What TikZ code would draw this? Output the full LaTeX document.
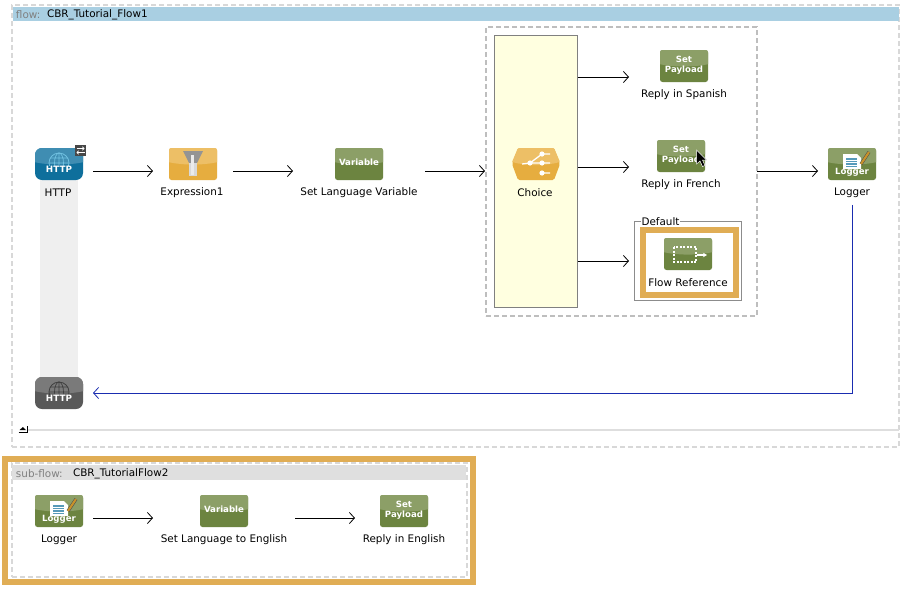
\documentclass[tikz,border=0pt]{standalone}
\usepackage{fontspec}
\setmainfont{DejaVu Sans}
\usetikzlibrary{arrows.meta,calc}
\definecolor{gdark}{HTML}{6C8440}
\definecolor{glight}{HTML}{8C9F67}
\definecolor{odark}{HTML}{E6AD3F}
\definecolor{olight}{HTML}{EDBF66}
\definecolor{bdark}{HTML}{0E6F9C}
\definecolor{blight}{HTML}{3F8DB2}
\definecolor{globeb}{HTML}{6FC0E0}
\definecolor{kdark}{HTML}{595959}
\definecolor{klight}{HTML}{7A7A7A}
\definecolor{sel}{HTML}{E0AD55}
\definecolor{flowbar}{HTML}{A9CFE2}
\definecolor{subbar}{HTML}{DFDFDF}
\definecolor{lane}{HTML}{EFEFEF}
\definecolor{dashg}{HTML}{D8D8D8}
\definecolor{scopeg}{HTML}{BEBEBE}
\definecolor{yell}{HTML}{FFFFE0}
\definecolor{wire}{HTML}{1A2DB0}
\definecolor{pencil}{HTML}{C8922A}
\tikzset{
  x=1pt,y=-1pt,
  box/.style={rectangle,inner sep=0pt,outer sep=0pt},
  iconbase/.style={box,minimum width=48pt,minimum height=32pt,rounded corners=2.5pt},
  lbl/.style={box,font=\fontsize{10.4}{12}\selectfont,text=black},
  hdrgray/.style={box,anchor=west,font=\fontsize{10.4}{12}\selectfont,text=black!50},
  hdrblack/.style={box,anchor=west,font=\fontsize{10.4}{12}\selectfont,text=black},
  icontext/.style={box,align=center,text=white,font=\fontsize{8.6}{9.5}\selectfont\bfseries},
  conn/.style={draw=black,line width=.8pt,-{Straight Barb[length=5pt,width=11pt,line width=.8pt]}},
  connb/.style={draw=wire,line width=.9pt,-{Straight Barb[length=5pt,width=11pt,line width=.8pt]}},
  flowdash/.style={draw=dashg,line width=2pt,dash pattern=on 5pt off 3pt},
  scopedash/.style={draw=scopeg,line width=2pt,dash pattern=on 5pt off 3pt},
}
% name, cx, cy, dark, light
\newcommand{\iconbox}[5]{%
  \node[iconbase,fill=#4,path picture={
    \fill[#5,sharp corners,shift={(path picture bounding box.center)}]
      (-26,-18) rectangle (26,-2) (-26,-2.2) .. controls (-10,1.5) and (10,1.5) .. (26,-2.2) -- cycle;
  }] (#1) at (#2,#3) {};}
\newcommand{\setpayload}[4]{\iconbox{#1}{#2}{#3}{gdark}{glight}%
  \node[icontext] (#1-t) at ($(#1.center)+(0,-0.5)$) {Set\\[.5pt]Payload};
  \node[lbl] (#1-l) at (#2,#3+29) {#4};}
\newcommand{\variable}[4]{\iconbox{#1}{#2}{#3}{gdark}{glight}%
  \node[icontext] (#1-t) at ($(#1.center)+(0,-1.5)$) {Variable};
  \node[lbl] (#1-l) at (#2,#3+29) {#4};}
\newcommand{\loggericon}[4]{\iconbox{#1}{#2}{#3}{gdark}{glight}%
  \begin{scope}[shift={(#1.center)}]
    \fill[white] (-9,-10) -- (5,-10) -- (9,-6) -- (9,5) -- (-9,5) -- cycle;
    \foreach \yy in {-5,-2.5,0,2.5}{\draw[color=bdark!70,line width=1.1pt] (-6,\yy) -- (5,\yy);}
    \draw[color=black!70,line width=3.2pt] (17,-12) -- (9,0);
    \draw[color=pencil,line width=2.2pt] (17,-12) -- (9,0);
  \end{scope}
  \node[icontext] (#1-t) at ($(#1.center)+(0,8)$) {Logger};
  \node[lbl] (#1-l) at (#2,#3+29) {#4};}
\newcommand{\httpicon}[6]{%
  \node[iconbase,rounded corners=7pt,fill=#4,path picture={
    \fill[#5,sharp corners,shift={(path picture bounding box.center)}]
      (-26,-18) rectangle (26,-2) (-26,-2.2) .. controls (-10,1.5) and (10,1.5) .. (26,-2.2) -- cycle;
  }] (#1) at (#2,#3) {};
  \begin{scope}[shift={(#1.center)}]
    \clip (-14,-13) rectangle (14,1);
    \draw[color=#6,line width=.8pt] (0,-1) circle (10);
    \draw[color=#6,line width=.7pt] (0,-1) ellipse (4.5 and 10) (-10,-1) -- (10,-1) (-9,-6) -- (9,-6) (0,-11) -- (0,1);
  \end{scope}
  \node[icontext,font=\fontsize{8.8}{9.5}\selectfont\bfseries] (#1-t) at ($(#1.center)+(0,5)$) {HTTP};}
\begin{document}
\begin{tikzpicture}
\useasboundingbox (0,0) rectangle (904,589);
\fill[white] (0,0) rectangle (904,589);
% main flow
\node[box,fill=white,flowdash,minimum width=887pt,minimum height=442pt] (flowbox) at (455.5,226) {};
\node[box,fill=flowbar,minimum width=886pt,minimum height=14pt] (flowbar) at (456,14) {};
\node[hdrgray] (flowkey) at (16,14.5) {flow:};
\node[hdrblack] (flowname) at (47,14.5) {CBR\_Tutorial\_Flow1};
\node[box,fill=lane,minimum width=38pt,minimum height=200pt] (lanebox) at (59,279) {};
% icons
\httpicon{httpin}{59}{164}{bdark}{blight}{globeb}
\node[lbl] (httpin-l) at (58,192.5) {HTTP};
\node[box,fill=black!72,minimum width=11pt,minimum height=11pt] (swap) at (80.5,150.5) {};
\draw[white,line width=.8pt,-{Straight Barb[length=1.6pt,width=3.6pt]}] ($(swap.center)+(-4,-2)$) -- ($(swap.center)+(4,-2)$);
\draw[white,line width=.8pt,-{Straight Barb[length=1.6pt,width=3.6pt]}] ($(swap.center)+(4,2)$) -- ($(swap.center)+(-4,2)$);
\iconbox{expr}{193}{164}{odark}{olight}
\begin{scope}[shift={(expr.center)}]
  \fill[black!42] (-10,-13) -- (10,-13) -- (4,-1) -- (-4,-1) -- cycle;
  \fill[black!15] (-4,-1) -- (4,-1) -- (4,12) -- (-4,12) -- cycle;
  \fill[black!8] (-2,-9) -- (1,-9) -- (1,11) -- (-2,11) -- cycle;
\end{scope}
\node[lbl] (expr-l) at (192,192.5) {Expression1};
\variable{setlang}{359}{164}{Set Language Variable}
% choice scope
\node[box,fill=white,scopedash,minimum width=271pt,minimum height=289pt] (scopebox) at (621.5,171.5) {};
\node[box,fill=yell,draw=black!50,line width=.9pt,minimum width=83pt,minimum height=272pt] (choicebox) at (536,171) {};
\fill[odark,rounded corners=1.5pt] (512,164) -- (518,148) -- (554,148) -- (560,164) -- (554,180) -- (518,180) -- cycle;
\fill[olight,rounded corners=1pt] (512,162) -- (518,148) -- (554,148) -- (560,162) .. controls (545,166) and (527,166) .. (512,162) -- cycle;
\node[box,minimum width=48pt,minimum height=32pt] (choice) at (536,164) {};
\begin{scope}[shift={(choice.center)}]
  \draw[white,line width=1.3pt] (-14,0) -- (-6,-1) -- (6,-10) -- (14,-10) (-6,-1) -- (14,-1) (6,9) -- (14,9);
  \fill[white] (-6,-1) circle (2.6) (6,-10) circle (2.6) (6,-1) circle (2.6) (6,9) circle (2.6);
\end{scope}
\node[lbl] (choice-l) at (535,192.5) {Choice};
\setpayload{spanish}{684}{66}{Reply in Spanish}
\setpayload{french}{681}{156}{Reply in French}
% default
\node[box,draw=black!45,line width=.7pt,minimum width=107.5pt,minimum height=79pt] (defaultbox) at (688,260.5) {};
\node[box,draw=sel,fill=white,line width=6pt,minimum width=93pt,minimum height=65pt] (selbox) at (689.5,262.5) {};
\node[box,fill=white,font=\fontsize{10.4}{11}\selectfont,inner xsep=.5pt] (default-l) at (660.5,222) {Default};
\iconbox{flowref}{688}{254}{gdark}{glight}
\begin{scope}[shift={(flowref.center)}]
  \draw[white,line width=1.2pt,dash pattern=on 2pt off 1.5pt] (-14,-7) rectangle (8,8);
  \draw[white,line width=1.2pt,-{Stealth[length=4pt,width=4.5pt]}] (9,1) -- (19,1);
\end{scope}
\node[lbl] (flowref-l) at (688,282.5) {Flow Reference};
% cursor
\fill[black,draw=white,line width=.5pt] (696.5,150) -- (696.5,164) -- (700,161) -- (702.5,166.5) -- (705,165.5) -- (702.5,160) -- (706.5,160) -- cycle;
\loggericon{logout}{852}{164}{Logger}
\httpicon{httpout}{59}{393}{kdark}{klight}{black!75}
% collapse bar
\draw[color=black!13,line width=2pt] (28,430) -- (899,430);
\node[box,fill=white,minimum width=9pt,minimum height=7pt] (collapse) at (23,429) {};
\draw[black,line width=1pt] (collapse.south west) -- (collapse.south east) -- (collapse.north east);
\fill[black] ($(collapse.center)+(-3.5,1)$) -- ($(collapse.center)+(3,1)$) -- ($(collapse.center)+(0,-2)$) -- cycle;
% connectors
\coordinate (in0) at (485,171);
\coordinate (in1) at (629,77);
\coordinate (in2) at (629,167);
\coordinate (in3) at (629,261);
\coordinate (in4) at (818,171);
\draw[conn,shorten <=10pt,shorten >=16pt] ([yshift=-7pt]httpin.east) -- ([yshift=-7pt]expr.west);
\draw[conn,shorten <=16pt,shorten >=42pt] ([yshift=-7pt]expr.east) -- ([yshift=-7pt]setlang.west);
\draw[conn,shorten <=42pt] ([yshift=-7pt]setlang.east) -- (in0);
\draw[conn] (choicebox.east |- in1) -- (in1);
\draw[conn] (choicebox.east |- in2) -- (in2);
\draw[conn] (choicebox.east |- in3) -- (in3);
\draw[conn] (scopebox.east |- in4) -- (in4);
\draw[connb,shorten >=10pt] ([yshift=-7pt]logout-l.south) |- (httpout.east);
% sub-flow
\node[box,draw=sel,fill=white,line width=6pt,minimum width=468pt,minimum height=123pt] (subsel) at (239,520.5) {};
\node[box,flowdash,minimum width=455pt,minimum height=114pt] (subbox) at (239.5,520) {};
\node[box,fill=subbar,minimum width=454pt,minimum height=15pt] (subbar) at (239,472.5) {};
\node[hdrgray] (subkey) at (16,473.5) {sub-flow:};
\node[hdrblack] (subname) at (73,473.5) {CBR\_TutorialFlow2};
\loggericon{sublog}{59}{511}{Logger}
\variable{subvar}{224}{511}{Set Language to English}
\setpayload{subset}{404}{511}{Reply in English}
\draw[conn,shorten <=10pt,shorten >=47pt] ([yshift=-7pt]sublog.east) -- ([yshift=-7pt]subvar.west);
\draw[conn,shorten <=47pt,shorten >=25pt] ([yshift=-7pt]subvar.east) -- ([yshift=-7pt]subset.west);
\end{tikzpicture}
\end{document}
